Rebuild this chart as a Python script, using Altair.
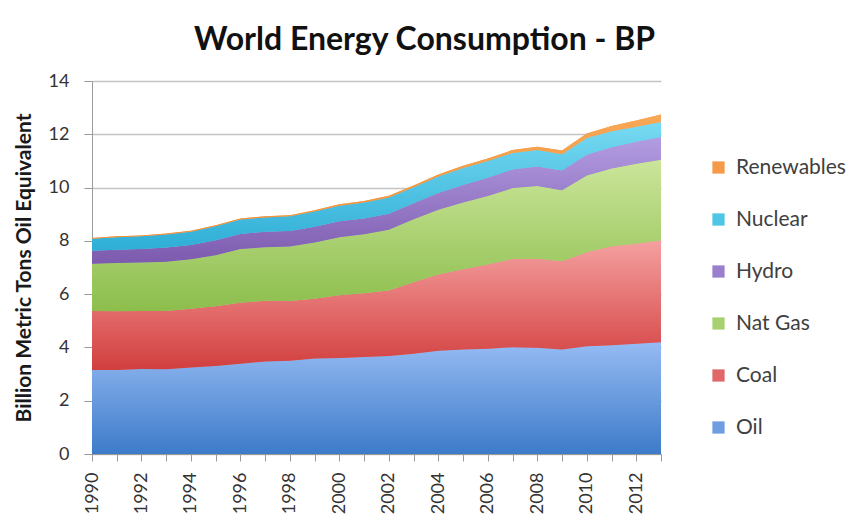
import altair as alt
import pandas as pd

years = list(range(1990, 2014))
oil = [3.15, 3.15, 3.19, 3.18, 3.25, 3.30, 3.39, 3.47, 3.50, 3.58, 3.60, 3.64, 3.68, 3.76, 3.88, 3.92, 3.95, 4.01, 3.99, 3.92, 4.04, 4.08, 4.14, 4.19]
coal = [2.22, 2.21, 2.18, 2.19, 2.20, 2.25, 2.29, 2.28, 2.24, 2.25, 2.36, 2.39, 2.46, 2.69, 2.86, 3.01, 3.16, 3.31, 3.34, 3.31, 3.53, 3.72, 3.75, 3.83]
natgas = [1.77, 1.81, 1.82, 1.85, 1.86, 1.91, 2.01, 2.01, 2.05, 2.11, 2.18, 2.22, 2.28, 2.36, 2.43, 2.51, 2.57, 2.66, 2.73, 2.67, 2.88, 2.92, 3.00, 3.02]
hydro = [0.49, 0.50, 0.50, 0.53, 0.53, 0.56, 0.57, 0.58, 0.58, 0.59, 0.60, 0.59, 0.60, 0.60, 0.63, 0.66, 0.69, 0.70, 0.73, 0.74, 0.78, 0.79, 0.83, 0.86]
nuclear = [0.45, 0.47, 0.48, 0.49, 0.50, 0.53, 0.54, 0.54, 0.55, 0.57, 0.58, 0.60, 0.61, 0.60, 0.62, 0.63, 0.63, 0.62, 0.62, 0.61, 0.63, 0.60, 0.56, 0.56]
renewables = [0.03, 0.03, 0.03, 0.035, 0.035, 0.04, 0.04, 0.045, 0.045, 0.05, 0.05, 0.055, 0.06, 0.065, 0.075, 0.085, 0.095, 0.11, 0.125, 0.145, 0.17, 0.20, 0.24, 0.28]

sources = ["Oil", "Coal", "Nat Gas", "Hydro", "Nuclear", "Renewables"]
series = [oil, coal, natgas, hydro, nuclear, renewables]
grad_colors = [
    ("#95bbf3", "#3d7bc9"),
    ("#f5a0a0", "#d23e3e"),
    ("#cbe59a", "#8cbe4c"),
    ("#b39de2", "#7c5aae"),
    ("#78daf2", "#2eaed6"),
    ("#f8a856", "#f09038"),
]
legend_colors = ["#6f9ee0", "#e06868", "#a8d070", "#9a80cc", "#50c6e6", "#f49a48"]

rows = []
for k, (s, vals) in enumerate(zip(sources, series)):
    for y, v in zip(years, vals):
        rows.append({"year": y, "source": s, "value": v, "order": k})
df = pd.DataFrame(rows)

FONT = "Lato"

base = alt.Chart(df).transform_stack(
    stack="value", groupby=["year"], as_=["y0", "y1"],
    sort=[alt.SortField("order", order="ascending")]
)

xenc = alt.X("year:Q", scale=alt.Scale(domain=[1990, 2013], nice=False),
             axis=alt.Axis(values=years, title=None, labelAngle=-90,
                           labelExpr="datum.value % 2 == 0 ? '' + datum.value : ''",
                           labelFontSize=18, labelColor="#333333", labelFont=FONT,
                           domainColor="#9a9a9a", tickColor="#9a9a9a", tickSize=7,
                           grid=False, labelPadding=11, labelBaseline="middle", labelAlign="right"))
yenc = alt.Y("y1:Q", scale=alt.Scale(domain=[0, 14], nice=False),
             axis=alt.Axis(values=list(range(0, 15, 2)), title="Billion Metric Tons Oil Equivalent",
                           titleFontSize=21, titleFont=FONT, titleFontWeight="bold", titleColor="#1a1a1a",
                           labelFontSize=18, labelFont=FONT, labelColor="#333333",
                           domainColor="#9a9a9a", tickColor="#9a9a9a", tickSize=8,
                           gridColor="#c4c4c4", gridWidth=1.5, titlePadding=14, labelPadding=15))

legend_layer = base.mark_area().encode(
    x=xenc, y=yenc, y2="y0:Q",
    color=alt.Color("source:N",
                    scale=alt.Scale(domain=sources[::-1], range=legend_colors[::-1]),
                    legend=alt.Legend(title=None, orient="none", legendX=616, legendY=76,
                                      symbolType="square", symbolSize=150, symbolStrokeWidth=0,
                                      labelFontSize=21, labelFont=FONT, labelColor="#404040",
                                      rowPadding=30, labelOffset=7)),
    order=alt.Order("order:Q"),
)

layers = [legend_layer]
for k, s in enumerate(sources):
    top, bot = grad_colors[k]
    g = alt.Gradient(gradient="linear", x1=0, y1=0, x2=0, y2=1,
                     stops=[alt.GradientStop(color=top, offset=0), alt.GradientStop(color=bot, offset=1)])
    layers.append(
        base.transform_filter(alt.datum.source == s).mark_area(color=g).encode(
            x=xenc, y=yenc, y2="y0:Q"
        )
    )

chart = alt.layer(*layers).properties(
    width=569, height=373,
    title=alt.Title("World Energy Consumption - BP", fontSize=32, font=FONT, fontWeight="bold",
                    color="#111111", anchor="middle", frame="bounds", offset=15, dx=-5),
    padding={"left": 5, "top": 16, "right": 0, "bottom": 0},
).configure_view(stroke=None)

chart.save("out.html", embed_options={"renderer": "svg", "actions": False})
